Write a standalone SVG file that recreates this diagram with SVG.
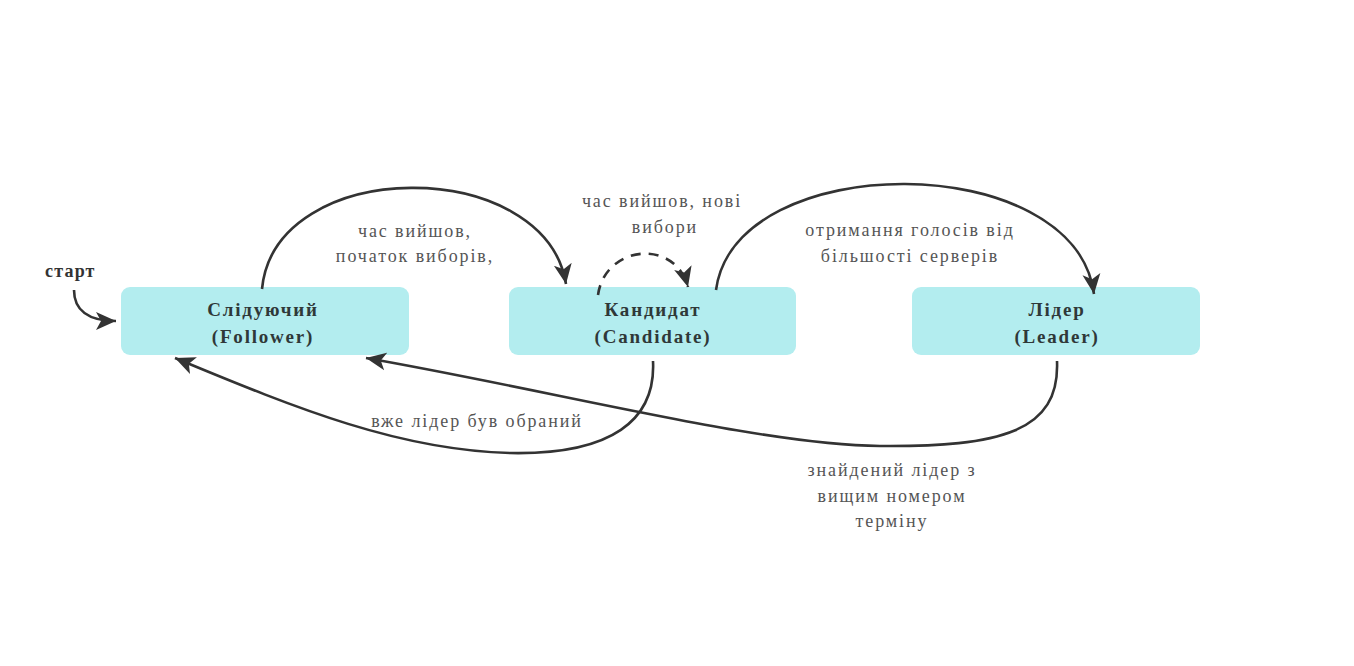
<svg xmlns="http://www.w3.org/2000/svg" width="1354" height="666" viewBox="0 0 1354 666">
  <defs>
    <marker id="arrow" markerUnits="userSpaceOnUse" markerWidth="22" markerHeight="22" viewBox="0 0 22 22" refX="20" refY="11" orient="auto">
      <path d="M0,2 L20,11 L0,20 L5,11 Z" fill="#333"/>
    </marker>
    <style>
      .node rect { fill: #b3edef; }
      .node text { font-family: "Liberation Serif", "DejaVu Serif", serif; font-weight: bold; font-size: 19px; fill: #2f3838; text-anchor: middle; letter-spacing: 1.8px; }
      .edge { fill: none; stroke: #333; stroke-width: 2.6; marker-end: url(#arrow); }
      .dashed { stroke-dasharray: 10 8; }
      .label { font-family: "Liberation Serif", "DejaVu Serif", serif; font-size: 18px; fill: #555; text-anchor: middle; letter-spacing: 1.9px; }
      .start { font-family: "Liberation Serif", "DejaVu Serif", serif; font-weight: bold; font-size: 18px; fill: #333; letter-spacing: 1.2px; }
    </style>
  </defs>

  <rect width="1354" height="666" fill="#ffffff"/>

  <!-- states -->
  <g id="follower" class="node">
    <rect x="121" y="287" width="288" height="68" rx="9"/>
    <text x="263" y="316">Слідуючий</text>
    <text x="263" y="343">(Follower)</text>
  </g>
  <g id="candidate" class="node">
    <rect x="509" y="287" width="287" height="68" rx="9"/>
    <text x="653" y="316">Кандидат</text>
    <text x="653" y="343">(Candidate)</text>
  </g>
  <g id="leader" class="node">
    <rect x="912" y="287" width="288" height="68" rx="9"/>
    <text x="1057" y="316">Лідер</text>
    <text x="1057" y="343">(Leader)</text>
  </g>

  <!-- transitions -->
  <g id="connectors">
    <path class="edge" d="M74,290 C74,310 88,321 116,321"/>
    <path class="edge" d="M262,289 C275,155 545,155 566,284"/>
    <path class="edge dashed" d="M598,295 C605,245 675,238 688,287"/>
    <path class="edge" d="M716,290 C735,148 1075,148 1094,294"/>
    <path class="edge" d="M653,361 C656,420 612,455 510,453 C400,450 300,410 175,358"/>
    <path class="edge" d="M1057,361 C1060,432 1000,447 880,446 C760,445 560,392 366,358"/>
  </g>

  <!-- transition labels -->
  <g id="labels">
    <text class="start" x="45" y="277">старт</text>
    <text class="label" x="415" y="237">час вийшов,</text>
    <text class="label" x="415" y="262">початок виборів,</text>
    <text class="label" x="662" y="207">час вийшов, нові</text>
    <text class="label" x="665" y="233">вибори</text>
    <text class="label" x="910" y="236">отримання голосів від</text>
    <text class="label" x="910" y="262">більшості серверів</text>
    <text class="label" x="477" y="427">вже лідер був обраний</text>
    <text class="label" x="892" y="476">знайдений лідер з</text>
    <text class="label" x="892" y="502">вищим номером</text>
    <text class="label" x="892" y="527">терміну</text>
  </g>
</svg>
